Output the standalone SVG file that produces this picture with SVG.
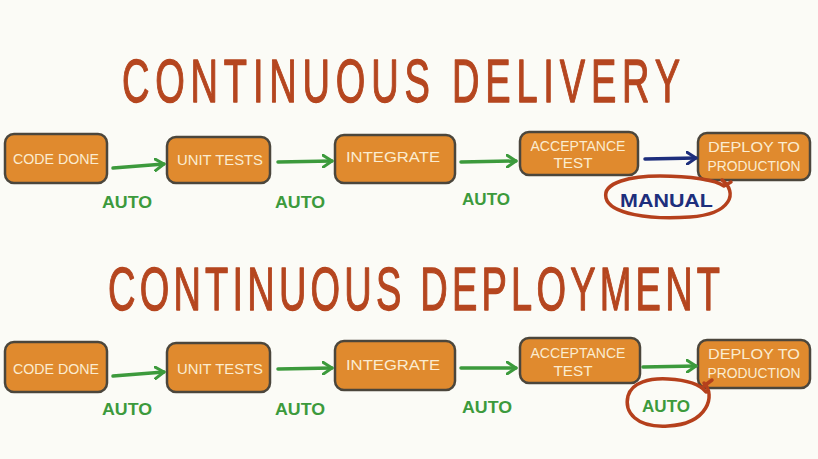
<svg xmlns="http://www.w3.org/2000/svg" width="818" height="459" viewBox="0 0 818 459">
<style>
.title{font-family:"Liberation Sans",Arial,sans-serif;font-size:38px;fill:#b5461f;stroke:#b5461f;stroke-width:0.8;stroke-linejoin:round}
.box{fill:#e08a2e;stroke:#4b463c;stroke-width:2.5}
.bt{font-family:"Liberation Sans",Arial,sans-serif;font-size:15px;fill:#fbecd0;text-anchor:middle}
.lbl{font-family:"Liberation Sans",Arial,sans-serif;font-size:17px;font-weight:bold;fill:#3c9a3c}
.man{font-family:"Liberation Sans",Arial,sans-serif;font-size:18px;font-weight:bold;fill:#1d2e7c}
.g{fill:none;stroke:#3c9a3c;stroke-width:3.5;stroke-linecap:round}
.b{fill:none;stroke:#1d2e7c;stroke-width:3.5;stroke-linecap:round}
.ring{fill:none;stroke:#b5401c;stroke-width:3.5;stroke-linecap:round;stroke-linejoin:round}
</style>
<defs>
<marker id="ag" viewBox="0 0 12 14" refX="10" refY="7" markerWidth="12" markerHeight="14" markerUnits="userSpaceOnUse" orient="auto">
<path d="M1,1 L10,7 L1,13" fill="none" stroke="#3c9a3c" stroke-width="3" stroke-linecap="round" stroke-linejoin="round"/>
</marker>
<marker id="ab" viewBox="0 0 12 14" refX="10" refY="7" markerWidth="12" markerHeight="14" markerUnits="userSpaceOnUse" orient="auto">
<path d="M1,1 L10,7 L1,13" fill="none" stroke="#1d2e7c" stroke-width="3" stroke-linecap="round" stroke-linejoin="round"/>
</marker>
</defs>
<rect width="818" height="459" fill="#fbfbf6"/>

<text id="title-delivery" class="title" transform="translate(122,102) scale(1,1.62)" x="0" y="0" textLength="558" lengthAdjust="spacing">CONTINUOUS DELIVERY</text>
<text id="title-deployment" class="title" transform="translate(108,310) scale(1,1.62)" x="0" y="0" textLength="612" lengthAdjust="spacing">CONTINUOUS DEPLOYMENT</text>

<g id="d-code-done"><rect class="box" x="5" y="134" width="102" height="49" rx="9"/><text class="bt" x="56" y="164" textLength="86" lengthAdjust="spacingAndGlyphs">CODE DONE</text></g>
<g id="d-unit-tests"><rect class="box" x="167" y="137" width="103" height="46" rx="9"/><text class="bt" x="220" y="165" textLength="86" lengthAdjust="spacingAndGlyphs">UNIT TESTS</text></g>
<g id="d-integrate"><rect class="box" x="335" y="135" width="120" height="48" rx="9"/><text class="bt" x="393" y="162" textLength="94" lengthAdjust="spacingAndGlyphs">INTEGRATE</text></g>
<g id="d-acceptance"><rect class="box" x="520" y="132" width="118" height="43" rx="9"/><text class="bt" x="578" y="151" textLength="95" lengthAdjust="spacingAndGlyphs">ACCEPTANCE</text><text class="bt" x="573" y="168" textLength="39" lengthAdjust="spacingAndGlyphs">TEST</text></g>
<g id="d-deploy"><rect class="box" x="698" y="133" width="112" height="47" rx="9"/><text class="bt" x="754" y="152" textLength="92" lengthAdjust="spacingAndGlyphs">DEPLOY TO</text><text class="bt" x="754" y="171" textLength="93" lengthAdjust="spacingAndGlyphs">PRODUCTION</text></g>

<g id="p-code-done"><rect class="box" x="5" y="342" width="102" height="50" rx="9"/><text class="bt" x="56" y="374" textLength="86" lengthAdjust="spacingAndGlyphs">CODE DONE</text></g>
<g id="p-unit-tests"><rect class="box" x="167" y="343" width="103" height="49" rx="9"/><text class="bt" x="220" y="374" textLength="86" lengthAdjust="spacingAndGlyphs">UNIT TESTS</text></g>
<g id="p-integrate"><rect class="box" x="335" y="341" width="120" height="49" rx="9"/><text class="bt" x="393" y="370" textLength="94" lengthAdjust="spacingAndGlyphs">INTEGRATE</text></g>
<g id="p-acceptance"><rect class="box" x="520" y="338" width="120" height="45" rx="9"/><text class="bt" x="578" y="358" textLength="95" lengthAdjust="spacingAndGlyphs">ACCEPTANCE</text><text class="bt" x="573" y="376" textLength="39" lengthAdjust="spacingAndGlyphs">TEST</text></g>
<g id="p-deploy"><rect class="box" x="698" y="340" width="112" height="48" rx="9"/><text class="bt" x="754" y="359" textLength="92" lengthAdjust="spacingAndGlyphs">DEPLOY TO</text><text class="bt" x="754" y="378" textLength="93" lengthAdjust="spacingAndGlyphs">PRODUCTION</text></g>

<g id="connectors">
<path class="g" d="M113,168 L164,164" marker-end="url(#ag)"/>
<path class="g" d="M278,162 L332,161" marker-end="url(#ag)"/>
<path class="g" d="M461,162 L516,161" marker-end="url(#ag)"/>
<path class="b" d="M645,159 L696,158" marker-end="url(#ab)"/>
<path class="g" d="M113,376 L164,372" marker-end="url(#ag)"/>
<path class="g" d="M278,369 L332,368" marker-end="url(#ag)"/>
<path class="g" d="M461,368 L516,368" marker-end="url(#ag)"/>
<path class="g" d="M643,367 L696,366" marker-end="url(#ag)"/>
</g>

<g id="labels">
<text class="lbl" x="102" y="208" textLength="50" lengthAdjust="spacingAndGlyphs">AUTO</text>
<text class="lbl" x="275" y="208" textLength="50" lengthAdjust="spacingAndGlyphs">AUTO</text>
<text class="lbl" x="462" y="205" textLength="48" lengthAdjust="spacingAndGlyphs">AUTO</text>
<text class="man" x="620" y="207" textLength="93" lengthAdjust="spacingAndGlyphs">MANUAL</text>
<text class="lbl" x="102" y="415" textLength="50" lengthAdjust="spacingAndGlyphs">AUTO</text>
<text class="lbl" x="275" y="415" textLength="50" lengthAdjust="spacingAndGlyphs">AUTO</text>
<text class="lbl" x="462" y="413" textLength="50" lengthAdjust="spacingAndGlyphs">AUTO</text>
<text class="lbl" x="642" y="412" textLength="48" lengthAdjust="spacingAndGlyphs">AUTO</text>
</g>

<g id="rings">
<path class="ring" d="M722,180 C738,192 732,214 690,217 C650,220 610,214 606,198 C602,182 632,176 660,176 C690,176 716,180 724,186 M724,186 L731,182"/>
<path class="ring" d="M704,383 C716,395 708,424 668,426 C636,428 624,412 628,396 C632,382 650,378 668,379 C688,380 700,384 706,392 M704,386 L712,380"/>
</g>
</svg>
